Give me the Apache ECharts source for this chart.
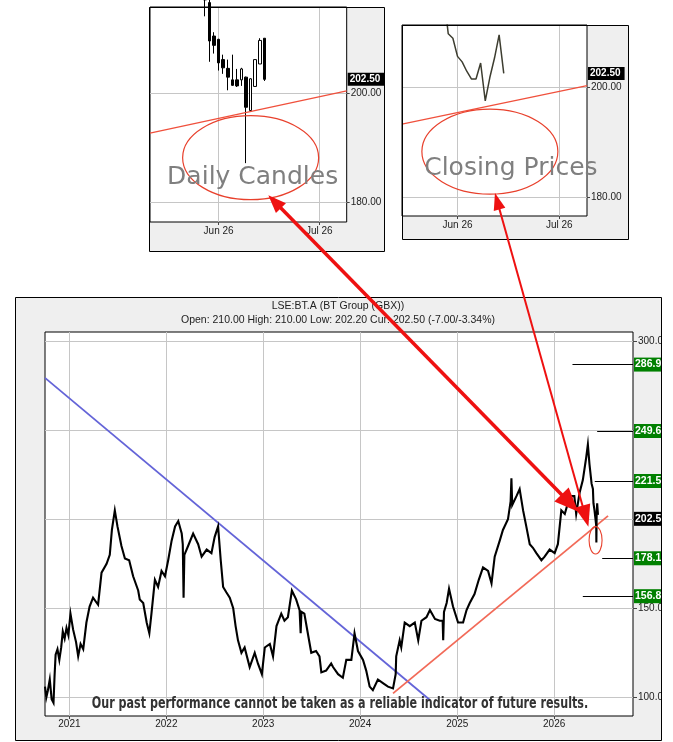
<!DOCTYPE html>
<html><head><meta charset="utf-8">
<script src="https://cdn.jsdelivr.net/npm/echarts@6/dist/echarts.min.js"></script>
<style>html,body{margin:0;padding:0;background:#fff}#c{width:673px;height:742px}</style>
</head><body><div id="c"></div>
<script>
// ---------------- DATA ----------------
// Main chart: BT Group price path (sampled)
const mainDates = ['2020-10-01','2020-10-06','2020-10-12','2020-10-19','2020-10-26','2020-11-02','2020-11-06','2020-11-10','2020-11-17','2020-11-24','2020-12-01','2020-12-07','2020-12-14','2020-12-21','2020-12-28',
'2021-01-05','2021-01-15','2021-01-26','2021-02-03','2021-02-12','2021-02-22','2021-03-06','2021-03-18','2021-03-31','2021-04-19','2021-05-02','2021-05-21','2021-06-02','2021-06-10','2021-06-21','2021-07-01','2021-07-16','2021-07-29','2021-08-14','2021-08-29','2021-09-17','2021-09-23','2021-10-06','2021-10-19','2021-10-29','2021-11-06','2021-11-19','2021-12-01','2021-12-14','2021-12-27',
'2022-01-08','2022-01-21','2022-02-03','2022-02-15','2022-02-28','2022-03-04','2022-03-07','2022-03-10','2022-03-24','2022-04-12','2022-05-01','2022-05-14','2022-06-02','2022-06-20','2022-07-02','2022-07-15','2022-07-25','2022-08-03','2022-08-15','2022-08-28','2022-09-10','2022-09-19','2022-09-28','2022-10-11','2022-10-23','2022-11-11','2022-11-30','2022-12-12','2022-12-27',
'2023-01-07','2023-01-26','2023-02-07','2023-02-20','2023-03-10','2023-03-22','2023-04-04','2023-04-19','2023-05-05','2023-05-18','2023-05-22','2023-05-25','2023-06-05','2023-06-18','2023-07-01','2023-07-19','2023-08-01','2023-08-08','2023-08-26','2023-09-14','2023-09-21','2023-10-10','2023-10-28','2023-11-10','2023-11-29','2023-12-11','2023-12-24',
'2024-01-12','2024-01-24','2024-02-06','2024-02-18','2024-03-08','2024-03-27','2024-04-15','2024-05-04','2024-05-14','2024-05-16','2024-05-29','2024-06-04','2024-06-17','2024-07-06','2024-07-25','2024-08-07','2024-08-19','2024-09-07','2024-09-20','2024-10-09','2024-10-27','2024-11-07','2024-11-09','2024-11-12','2024-11-22','2024-12-01','2024-12-16',
'2025-01-04','2025-01-23','2025-02-05','2025-02-17','2025-03-07','2025-03-23','2025-04-08','2025-04-27','2025-05-10','2025-05-22','2025-06-10','2025-06-22','2025-07-11','2025-07-21','2025-07-24','2025-07-27','2025-08-12','2025-08-24','2025-09-06','2025-09-18','2025-10-01','2025-10-13','2025-10-26','2025-11-14','2025-11-26','2025-12-15',
'2026-01-03','2026-01-15','2026-01-28','2026-02-10','2026-03-01','2026-03-18','2026-03-25','2026-04-07','2026-04-19','2026-05-02','2026-05-08','2026-05-14','2026-05-22','2026-05-27','2026-05-29','2026-06-02','2026-06-05','2026-06-08','2026-06-09','2026-06-10','2026-06-12','2026-06-15'];
const mainValues = [106,100,104,110,99,97,112,124,127,121,128,137,133,139,135,
147,138,131,123,130,127,142,151,156,152,170,175,180,194,205,196,185,178,177,168,160,155,153,142,136,147,166,162,171,168,
177,188,196,199,192,186,156,180,185,192,186,179,183,181,190,196,177,162,159,156,150,140,132,125,128,117,125,119,113,
128,130,123,140,147,143,145,160,155,149,136,148,147,136,125,126,123,114,115,119,117,113,111,121,121,136,126,
121,115,106,104,110,108,106,105,113,123,132,128,142,140,142,132,143,145,149,144,143,143,132,148,153,161,151,
142,142,149,153,158,166,173,171,164,179,188,194,200,210,223,208,213,217,205,196,186,184,181,177,179,183,
181,186,205,203,213,213,203,215,222,235,242,231,220,217,209,205,201,204,187,202,209,202.5];

// Trend lines
const blueTrendDates = ['2020-10-01','2024-09-20'];
const blueTrendValues = [279.4, 98.5];
const redTrendDates = ['2024-05-04','2026-07-23'];
const redTrendValues = [102.2, 201.9];

// Target levels (green boxes) and where their lines start
const levelValues = [286.9, 249.6, 221.5, 178.1, 156.8];
const levelStartDates = ['2026-03-11','2026-06-12','2026-06-03','2026-07-01','2026-04-19'];
const currentPrice = 202.5;

// Main axis ticks
const mainYTicks = [100, 150, 200, 250, 300];
const mainYearTicks = ['2021-01-01','2022-01-01','2023-01-01','2024-01-01','2025-01-01','2026-01-01'];

// Inset: daily candles
const candleDates = ['2026-05-27','2026-05-28','2026-05-29','2026-06-01','2026-06-02','2026-06-03','2026-06-04','2026-06-05','2026-06-08','2026-06-09','2026-06-10','2026-06-11','2026-06-12','2026-06-15'];
const candleOpen  = [220.0, 216.5, 210.4, 209.8, 206.1, 204.5, 202.4, 202.4, 202.4, 202.9, 196.8, 201.2, 205.3, 210.0];
const candleClose = [217.0, 209.5, 208.7, 205.5, 204.6, 202.9, 201.4, 201.3, 204.4, 197.4, 202.6, 206.1, 209.6, 202.5];
const candleLow   = [214.0, 205.7, 207.2, 204.1, 203.5, 200.5, 201.3, 201.1, 201.3, 187.2, 196.6, 201.2, 205.3, 202.2];
const candleHigh  = [221.0, 217.0, 211.1, 209.9, 207.0, 206.1, 207.0, 204.4, 204.6, 203.0, 202.7, 206.1, 210.0, 210.0];

// Inset: closing prices
const closeDates = candleDates;
const closeValues = [217.0, 209.7, 208.9, 205.6, 204.6, 202.9, 201.5, 201.5, 204.4, 197.5, 201.8, 205.3, 209.5, 202.5];

// Inset trend line endpoints
const leftTrendDates = ['2026-05-11','2026-07-09'];
const leftTrendValues = [192.7, 200.4];
const rightTrendDates = ['2026-05-14','2026-07-09'];
const rightTrendValues = [193.3, 200.3];

const insetYTicks = [180, 200];
const insetMonthTicks = ['2026-06-01','2026-07-01'];
const insetMonthLabels = ['Jun 26','Jul 26'];

// ---------------- CHART ----------------
const FONT = "'Liberation Sans', Arial, sans-serif";
const ts = s => Date.parse(s);
const mainMin = ts('2020-10-01'), mainMax = ts('2026-10-25');

function weekdays(a, b) {
  const out = [];
  for (let t = ts(a); t <= ts(b); t += 86400000) {
    const d = new Date(t), w = d.getUTCDay();
    if (w !== 0 && w !== 6) out.push(d.toISOString().slice(0, 10));
  }
  return out;
}
const leftCats = weekdays('2026-05-11', '2026-07-09');
const rightCats = weekdays('2026-05-14', '2026-07-09');

const candleData = leftCats.map(c => {
  const i = candleDates.indexOf(c);
  return i < 0 ? '-' : [candleOpen[i], candleClose[i], candleLow[i], candleHigh[i]];
});
const closeData = rightCats.map(c => {
  const i = closeDates.indexOf(c);
  return i < 0 ? '-' : closeValues[i];
});
const mainData = mainDates.map((d, i) => [ts(d), mainValues[i]]);
const isMonth = (idx, v) => insetMonthTicks.indexOf(v) >= 0;
const monthFmt = v => { const i = insetMonthTicks.indexOf(v); return i >= 0 ? insetMonthLabels[i] : ''; };

const gridColor = '#c6c6c6';
const CLEAR = 'rgba(0,0,0,0)';
function insetX(gridIndex, cats) {
  return {
    gridIndex, type: 'category', data: cats, boundaryGap: false,
    axisLine: { show: false },
    axisTick: { show: true, interval: isMonth, length: 3, lineStyle: { color: '#444' } },
    axisLabel: { interval: isMonth, formatter: monthFmt, fontSize: 10, color: '#222', margin: 4, fontFamily: FONT },
    splitLine: { show: true, interval: isMonth, lineStyle: { color: gridColor } }
  };
}
function insetY(gridIndex, min, max) {
  return {
    gridIndex, type: 'value', position: 'right', min, max,
    axisLine: { show: false },
    axisTick: { show: true, customValues: insetYTicks, length: 3, lineStyle: { color: '#444' } },
    axisLabel: { customValues: insetYTicks, formatter: v => v.toFixed(2), fontSize: 10, color: '#222', margin: 4, fontFamily: FONT },
    splitLine: { show: true, lineStyle: { color: gridColor } }
  };
}
const curLabel = (txt, fs) => ({
  symbol: 'none', silent: true, z: 20,
  data: [{ yAxis: currentPrice, lineStyle: { color: CLEAR, width: 0 } }],
  label: { show: true, position: 'end', distance: 1, formatter: txt, backgroundColor: '#000', color: '#fff',
    fontWeight: 'bold', fontSize: fs, fontFamily: FONT, padding: [2, 4, 1, 2] }
});

const levelLines = levelValues.map((v, i) => {
  const lab = { show: true, position: 'end', distance: 1, formatter: v.toFixed(1), backgroundColor: '#008000', color: '#fff',
    fontWeight: 'bold', fontSize: 10.5, fontFamily: FONT, padding: [2, 2, 1, 1] };
  return [{ coord: [ts(levelStartDates[i]), v], label: lab }, { coord: [mainMax, v], label: lab }];
});
levelLines.push({ yAxis: currentPrice, lineStyle: { color: CLEAR, width: 0 },
  label: { show: true, position: 'end', distance: 1, formatter: currentPrice.toFixed(1), backgroundColor: '#000', color: '#fff',
    fontWeight: 'bold', fontSize: 10.5, fontFamily: FONT, padding: [2, 2, 1, 1], offset: [0, 4] } });

const chart = echarts.init(document.getElementById('c'));
chart.setOption({
  animation: false,
  backgroundColor: '#fff',
  grid: [
    { left: 150, top: 7, width: 196.7, height: 215, show: true, backgroundColor: '#fff', borderColor: '#000', borderWidth: 1 },
    { left: 402, top: 25, width: 185, height: 191, show: true, backgroundColor: '#fff', borderColor: '#000', borderWidth: 1 },
    { left: 45, top: 332, width: 588, height: 384, show: true, backgroundColor: '#fff', borderColor: '#000', borderWidth: 1 }
  ],
  xAxis: [
    insetX(0, leftCats),
    insetX(1, rightCats),
    { gridIndex: 2, type: 'value', min: mainMin, max: mainMax,
      axisLine: { show: false },
      axisTick: { show: true, customValues: mainYearTicks.map(ts), length: 3, lineStyle: { color: '#444' } },
      axisLabel: { customValues: mainYearTicks.map(ts), formatter: v => String(new Date(v).getUTCFullYear()), fontSize: 10, color: '#222', margin: 3, fontFamily: FONT },
      splitLine: { show: true, lineStyle: { color: gridColor } } }
  ],
  yAxis: [
    insetY(0, 176.46, 215.7),
    insetY(1, 176.6, 211.3),
    { gridIndex: 2, type: 'value', position: 'right', min: 89.5, max: 305.2,
      axisLine: { show: false },
      axisTick: { show: true, customValues: mainYTicks, length: 4, lineStyle: { color: '#444' } },
      axisLabel: { customValues: mainYTicks, formatter: v => v.toFixed(1), fontSize: 10, color: '#222', margin: 5, fontFamily: FONT },
      splitLine: { show: true, lineStyle: { color: gridColor } } }
  ],
  series: [
    { type: 'candlestick', xAxisIndex: 0, yAxisIndex: 0, data: candleData, barWidth: 3, clip: true,
      itemStyle: { color: '#fff', color0: '#000', borderColor: '#000', borderColor0: '#000', borderWidth: 1 },
      markLine: curLabel('202.50', 10) },
    { type: 'line', xAxisIndex: 0, yAxisIndex: 0, data: leftTrendDates.map((d, i) => [d, leftTrendValues[i]]),
      symbol: 'none', lineStyle: { color: '#f0503c', width: 1.3 }, z: 3 },
    { type: 'line', xAxisIndex: 1, yAxisIndex: 1, data: closeData, symbol: 'none', clip: true,
      lineStyle: { color: '#3d3d30', width: 1.5 }, markLine: curLabel('202.50', 10) },
    { type: 'line', xAxisIndex: 1, yAxisIndex: 1, data: rightTrendDates.map((d, i) => [d, rightTrendValues[i]]),
      symbol: 'none', lineStyle: { color: '#f0503c', width: 1.3 } },
    { type: 'line', xAxisIndex: 2, yAxisIndex: 2, data: mainData, symbol: 'none', clip: true,
      lineStyle: { color: '#000', width: 2.1, join: 'miter' }, z: 3,
      markLine: { symbol: 'none', silent: true, lineStyle: { color: '#000', width: 1, type: 'solid' }, data: levelLines } },
    { type: 'line', xAxisIndex: 2, yAxisIndex: 2, data: blueTrendDates.map((d, i) => [ts(d), blueTrendValues[i]]),
      symbol: 'none', lineStyle: { color: '#6464d8', width: 1.8 }, z: 2 },
    { type: 'line', xAxisIndex: 2, yAxisIndex: 2, data: redTrendDates.map((d, i) => [ts(d), redTrendValues[i]]),
      symbol: 'none', lineStyle: { color: '#f26a58', width: 1.8 }, z: 2 }
  ]
});

// ---------------- ANNOTATIONS ----------------
const RED = '#ee1111';
function arrow(p0, p1, w, len0, half0, len1, half1, color) {
  const dx = p1[0] - p0[0], dy = p1[1] - p0[1], L = Math.hypot(dx, dy);
  const ux = dx / L, uy = dy / L, nx = -uy, ny = ux;
  const head = (tip, dirx, diry, len, half) => {
    const bx = tip[0] - dirx * len, by = tip[1] - diry * len;
    return { type: 'polygon', z: 70, shape: { points: [[tip[0], tip[1]], [bx + nx * half, by + ny * half], [bx - nx * half, by - ny * half]] }, style: { fill: color } };
  };
  return [
    { type: 'line', z: 70, shape: { x1: p0[0] + ux * len0 * 0.8, y1: p0[1] + uy * len0 * 0.8, x2: p1[0] - ux * len1 * 0.8, y2: p1[1] - uy * len1 * 0.8 }, style: { stroke: color, lineWidth: w } },
    head(p0, -ux, -uy, len0, half0),
    head(p1, ux, uy, len1, half1)
  ];
}
const eL = chart.convertToPixel({ gridIndex: 0 }, [leftCats.indexOf('2026-06-10'), 188.2]);
const eR = chart.convertToPixel({ gridIndex: 1 }, [rightCats.indexOf('2026-06-10'), 188.3]);
const tip1 = chart.convertToPixel({ gridIndex: 2 }, [ts('2026-04-02'), 204.3]);
const tip2 = chart.convertToPixel({ gridIndex: 2 }, [ts('2026-05-10'), 195.8]);
const eM = chart.convertToPixel({ gridIndex: 2 }, [ts('2026-06-06'), 188.2]);

const g = [
  { type: 'rect', z: -1, shape: { x: 15, y: 297, width: 647, height: 444 }, style: { fill: '#efefef' } },
  { type: 'rect', z: -1, shape: { x: 149, y: 7, width: 236, height: 245 }, style: { fill: '#efefef' } },
  { type: 'rect', z: -1, shape: { x: 402, y: 25, width: 227, height: 215 }, style: { fill: '#efefef' } },
  { type: 'rect', z: 49, shape: { x: 662, y: 290, width: 12, height: 452 }, style: { fill: '#fff' } },
  { type: 'rect', z: 49, shape: { x: 385, y: 0, width: 16, height: 260 }, style: { fill: '#fff' } },
  { type: 'rect', z: 49, shape: { x: 629, y: 0, width: 44, height: 260 }, style: { fill: '#fff' } },
  { type: 'rect', z: 50, shape: { x: 15.5, y: 297.5, width: 646, height: 443 }, style: { fill: 'none', stroke: '#000', lineWidth: 1 } },
  { type: 'rect', z: 50, shape: { x: 149.5, y: 7.5, width: 235, height: 244 }, style: { fill: 'none', stroke: '#000', lineWidth: 1 } },
  { type: 'rect', z: 50, shape: { x: 402.5, y: 25.5, width: 226, height: 214 }, style: { fill: 'none', stroke: '#000', lineWidth: 1 } },
  { type: 'text', z: 50, x: 338, y: 306, style: { text: 'LSE:BT.A (BT Group (GBX))', fontSize: 10.5, fontFamily: FONT, fill: '#222', align: 'center', verticalAlign: 'middle' } },
  { type: 'text', z: 50, x: 338, y: 320, style: { text: 'Open: 210.00 High: 210.00 Low: 202.20 Cur: 202.50 (-7.00/-3.34%)', fontSize: 10.5, fontFamily: FONT, fill: '#222', align: 'center', verticalAlign: 'middle' } },
  { type: 'text', z: 50, x: 340, y: 704, scaleX: 0.72, style: { text: 'Our past performance cannot be taken as a reliable indicator of future results.', fontSize: 15.5, fontWeight: 'bold', fontFamily: "'DejaVu Sans', sans-serif", fill: '#333', align: 'center', verticalAlign: 'middle' } },
  { type: 'ellipse', z: 60, shape: { cx: eL[0], cy: eL[1], rx: 68, ry: 42 }, style: { fill: 'none', stroke: '#e8402c', lineWidth: 1.2 } },
  { type: 'ellipse', z: 60, shape: { cx: eR[0], cy: eR[1], rx: 68, ry: 42.5 }, style: { fill: 'none', stroke: '#e8402c', lineWidth: 1.2 } },
  { type: 'text', z: 61, x: eL[0] + 2, y: eL[1] + 20, style: { text: 'Daily Candles', fontSize: 25, fontFamily: "'DejaVu Sans', sans-serif", fill: '#7f7f7f', align: 'center', verticalAlign: 'middle' } },
  { type: 'text', z: 61, x: eR[0] + 21, y: eR[1] + 17, style: { text: 'Closing Prices', fontSize: 25, fontFamily: "'DejaVu Sans', sans-serif", fill: '#7f7f7f', align: 'center', verticalAlign: 'middle' } },
  { type: 'ellipse', z: 60, shape: { cx: eM[0], cy: eM[1], rx: 6.5, ry: 13.7 }, style: { fill: 'none', stroke: '#e8402c', lineWidth: 1.1 } }
]
  .concat(arrow([eL[0] + 17.7, eL[1] + 37.5], tip1, 3.5, 18, 7, 24, 10, RED))
  .concat(arrow([eR[0] + 5.1, eR[1] + 41.5], tip2, 2, 17, 6, 22, 8, RED));

chart.setOption({ graphic: { elements: g } });
</script>
</body></html>
